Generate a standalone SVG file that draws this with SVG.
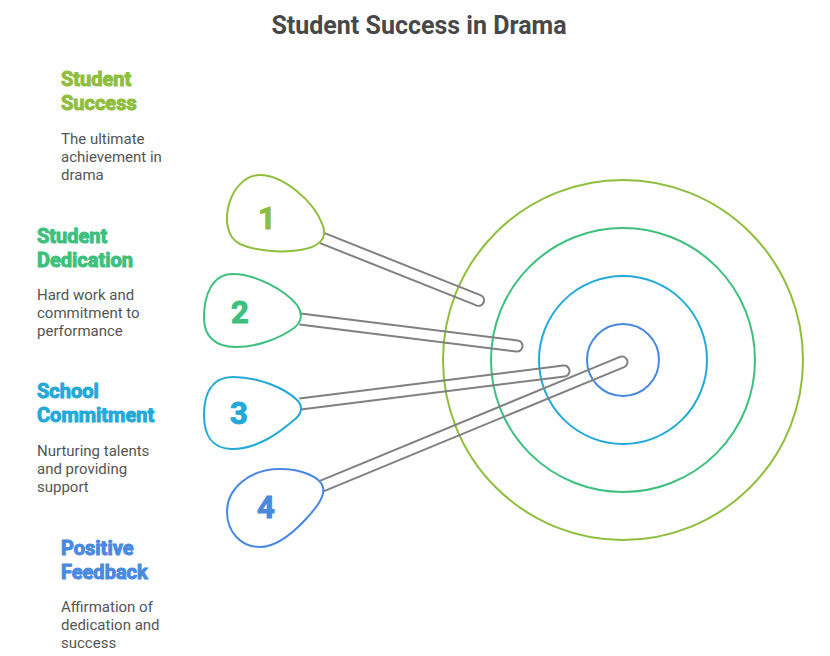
<svg xmlns="http://www.w3.org/2000/svg" width="830" height="656" viewBox="0 0 830 656">
<style>
.title{font-family:Roboto,"Liberation Sans",sans-serif;font-weight:700;font-size:25px;fill:#484848}
.head{font-family:Roboto,"Liberation Sans",sans-serif;font-weight:700;font-size:20px}
.desc{font-family:Roboto,"Liberation Sans",sans-serif;font-size:15px;fill:#555555}
.num{font-family:Roboto,"Liberation Sans",sans-serif;font-weight:700;font-size:31px;text-anchor:middle}
.ring{fill:none;stroke-width:2}
.shaft{fill:none;stroke:#808080;stroke-width:2;stroke-linejoin:round}
.dart{fill:#ffffff;stroke-width:2}
.c1{fill:#8fbe3e;stroke:#8fbe3e}
.c2{fill:#3dbf7e;stroke:#3dbf7e}
.c3{fill:#23a9d8;stroke:#23a9d8}
.c4{fill:#4a89e0;stroke:#4a89e0}
</style>
<rect width="830" height="656" fill="#ffffff"/>
<text class="title" x="419" y="34" text-anchor="middle">Student Success in Drama</text>

<g id="target">
<circle class="ring" cx="623" cy="360" r="180" stroke="#8fbe3e"/>
<circle class="ring" cx="623" cy="360" r="132" stroke="#3dbf7e"/>
<circle class="ring" cx="623" cy="360" r="84" stroke="#23a9d8"/>
<circle class="ring" cx="623" cy="360" r="36" stroke="#4a89e0"/>
</g>

<g id="connectors">
<path class="shaft" d="M 324.0 232.9 L 481.0 295.4 A 5.5 5.5 0 0 1 477.0 305.6 L 320.0 243.1"/>
<path class="shaft" d="M 300.7 313.5 L 517.7 340.5 A 5.5 5.5 0 0 1 516.3 351.5 L 299.3 324.5"/>
<path class="shaft" d="M 299.3 398.5 L 563.3 365.5 A 5.5 5.5 0 0 1 564.7 376.5 L 300.7 409.5"/>
<path class="shaft" d="M 319.9 480.9 L 619.9 356.9 A 5.5 5.5 0 0 1 624.1 367.1 L 324.1 491.1"/>
</g>

<g id="node1">
<path class="dart" stroke="#8fbe3e" d="M 260 175 C 282 175 314 200 323 226 C 327 238 320 247 300 250 C 282 253 255 251 240 244 C 226 237 225 218 229 204 C 234 187 246 175 260 175 Z"/>
<text class="num c1" stroke="none" x="267" y="229">1</text>
<text class="head c1" stroke="none" x="61" y="86">Student</text>
<text class="head c1" stroke="none" x="61" y="110">Success</text>
<text class="desc" x="61" y="144">The ultimate</text>
<text class="desc" x="61" y="162">achievement in</text>
<text class="desc" x="61" y="180">drama</text>
</g>

<g id="node2">
<path class="dart" stroke="#3dbf7e" d="M 233 274 C 255 274 285 290 297 305 C 303 313 302 322 294 328 C 280 338 258 347 236 347 C 215 347 204 336 204 318 C 204 295 212 274 233 274 Z"/>
<text class="num c2" stroke="none" x="240" y="323">2</text>
<text class="head c2" stroke="none" x="37" y="243">Student</text>
<text class="head c2" stroke="none" x="37" y="267">Dedication</text>
<text class="desc" x="37" y="300">Hard work and</text>
<text class="desc" x="37" y="318">commitment to</text>
<text class="desc" x="37" y="336">performance</text>
</g>

<g id="node3">
<path class="dart" stroke="#23a9d8" d="M 233 377 C 258 377 285 388 297 400 C 304 407 301 415 294 420 C 280 432 258 449 232 449 C 212 449 204 435 204 415 C 204 393 212 377 233 377 Z"/>
<text class="num c3" stroke="none" x="239" y="424">3</text>
<text class="head c3" stroke="none" x="37" y="398">School</text>
<text class="head c3" stroke="none" x="37" y="422">Commitment</text>
<text class="desc" x="37" y="456">Nurturing talents</text>
<text class="desc" x="37" y="474">and providing</text>
<text class="desc" x="37" y="492">support</text>
</g>

<g id="node4">
<path class="dart" stroke="#4a89e0" d="M 280 469 C 302 469 320 477 323 487 C 325 496 318 506 306 519 C 293 533 276 547 260 547 C 241 547 227 532 227 512 C 227 488 250 469 280 469 Z"/>
<text class="num c4" stroke="none" x="266" y="518">4</text>
<text class="head c4" stroke="none" x="61" y="555">Positive</text>
<text class="head c4" stroke="none" x="61" y="579">Feedback</text>
<text class="desc" x="61" y="612">Affirmation of</text>
<text class="desc" x="61" y="630">dedication and</text>
<text class="desc" x="61" y="648">success</text>
</g>
</svg>
